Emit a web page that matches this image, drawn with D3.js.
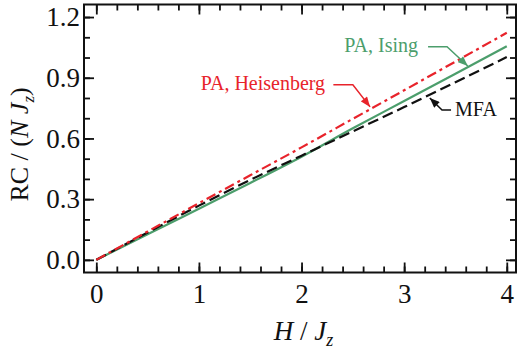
<!DOCTYPE html>
<html>
<head>
<meta charset="utf-8">
<script src="https://cdn.jsdelivr.net/npm/d3@7/dist/d3.min.js"></script>
<style>
  html, body { margin: 0; padding: 0; background: #fff; }
  svg { display: block; }
  text { font-family: "Liberation Serif", "Times New Roman", Times, serif; }
</style>
</head>
<body>
<svg id="chart" width="517" height="356"></svg>
<script>
// Field values H / Jz
const fieldValues = [0, 0.5, 1, 1.5, 2, 2.5, 3, 3.5, 4];
// RC / (N Jz) for each approach
const paHeisenberg = [0, 0.140, 0.280, 0.418, 0.556, 0.697, 0.838, 0.980, 1.122];
const paIsing      = [0, 0.126, 0.253, 0.380, 0.510, 0.650, 0.785, 0.920, 1.056];
const mfa          = [0, 0.135, 0.268, 0.395, 0.515, 0.635, 0.755, 0.878, 1.002];

const xMajorTicks = [0, 1, 2, 3, 4];
const xTickLabels = ["0", "1", "2", "3", "4"];
const yMajorTicks = [0, 0.3, 0.6, 0.9, 1.2];
const yTickLabels = ["0.0", "0.3", "0.6", "0.9", "1.2"];
const xMinorTicks = [0, 0.2, 0.4, 0.6, 0.8, 1, 1.2, 1.4, 1.6, 1.8, 2, 2.2, 2.4, 2.6, 2.8, 3, 3.2, 3.4, 3.6, 3.8, 4];
const yMinorTicks = [0, 0.1, 0.2, 0.3, 0.4, 0.5, 0.6, 0.7, 0.8, 0.9, 1.0, 1.1, 1.2];

const seriesNames = ["PA, Heisenberg", "PA, Ising", "MFA"];
const seriesValues = [paHeisenberg, paIsing, mfa];
const seriesColors = ["#e8232b", "#4c9e6c", "#111111"];
const seriesDash = ["10,4,3,4", null, "11,5"];

// Callout labels: text anchor point, leader start, knee and arrow tip, in data units
const callouts = [
  { series: 0, text: [2.23, 0.840], anchor: "end",   start: [2.31, 0.865], knee: [2.50, 0.865], tip: [2.668, 0.756] },
  { series: 1, text: [3.135, 1.028], anchor: "end",  start: [3.233, 1.053], knee: [3.418, 1.053], tip: [3.62, 0.958] },
  { series: 2, text: [3.496, 0.712], anchor: "start", start: [3.457, 0.741], knee: [3.369, 0.741], tip: [3.25, 0.800] }
];

const svg = d3.select("#chart");
const x = d3.scaleLinear().domain([-0.12, 4.09]).range([84, 516]);
const y = d3.scaleLinear().domain([-0.0625, 1.262]).range([272.5, 4.5]);
const [x0, x1] = x.range();
const [y0, y1] = y.range();

const MAJOR = 10, MINOR = 6;

// Minor ticks on all four sides
svg.append("g").attr("transform", `translate(0,${y0})`)
  .call(d3.axisBottom(x).tickValues(xMinorTicks).tickSize(-MINOR).tickFormat(""));
svg.append("g").attr("transform", `translate(0,${y1})`)
  .call(d3.axisTop(x).tickValues(xMinorTicks).tickSize(-MINOR).tickFormat(""));
svg.append("g").attr("transform", `translate(${x0},0)`)
  .call(d3.axisLeft(y).tickValues(yMinorTicks).tickSize(-MINOR).tickFormat(""));
svg.append("g").attr("transform", `translate(${x1},0)`)
  .call(d3.axisRight(y).tickValues(yMinorTicks).tickSize(-MINOR).tickFormat(""));

// Major ticks with labels
svg.append("g").attr("class", "xaxis").attr("transform", `translate(0,${y0})`)
  .call(d3.axisBottom(x).tickValues(xMajorTicks).tickSize(-MAJOR).tickPadding(11)
    .tickFormat((d, i) => xTickLabels[i]));
svg.append("g").attr("transform", `translate(0,${y1})`)
  .call(d3.axisTop(x).tickValues(xMajorTicks).tickSize(-MAJOR).tickFormat(""));
svg.append("g").attr("class", "yaxis").attr("transform", `translate(${x0},0)`)
  .call(d3.axisLeft(y).tickValues(yMajorTicks).tickSize(-MAJOR).tickPadding(4)
    .tickFormat((d, i) => yTickLabels[i]));
svg.append("g").attr("transform", `translate(${x1},0)`)
  .call(d3.axisRight(y).tickValues(yMajorTicks).tickSize(-MAJOR).tickFormat(""));

svg.selectAll(".domain").remove();
svg.selectAll(".tick line").attr("stroke", "#111").attr("stroke-width", 1.8);
svg.selectAll(".tick text").attr("font-size", 27).attr("fill", "#111");

// Frame
svg.append("rect")
  .attr("x", x0).attr("y", y1)
  .attr("width", x1 - x0).attr("height", y0 - y1)
  .attr("fill", "none").attr("stroke", "#111").attr("stroke-width", 2);

// Curves
const line = d3.line()
  .x((d, i) => x(fieldValues[i]))
  .y(d => y(d))
  .curve(d3.curveMonotoneX);

const drawOrder = [1, 2, 0];
drawOrder.forEach(k => {
  svg.append("path")
    .datum(seriesValues[k])
    .attr("d", line)
    .attr("fill", "none")
    .attr("stroke", seriesColors[k])
    .attr("stroke-width", 2.2)
    .attr("stroke-dasharray", seriesDash[k]);
});

// Arrowheads
const defs = svg.append("defs");
seriesColors.forEach((c, k) => {
  defs.append("marker")
    .attr("id", "arrow" + k)
    .attr("viewBox", "0 0 10 8")
    .attr("refX", 10).attr("refY", 4)
    .attr("markerWidth", 11).attr("markerHeight", 8)
    .attr("markerUnits", "userSpaceOnUse")
    .attr("orient", "auto")
    .append("path")
    .attr("d", "M0,0 L10,4 L0,8 Z")
    .attr("fill", c);
});

// Callouts
callouts.forEach(c => {
  const col = seriesColors[c.series];
  svg.append("path")
    .attr("d", d3.line()([c.start, c.knee, c.tip].map(p => [x(p[0]), y(p[1])])))
    .attr("fill", "none")
    .attr("stroke", col)
    .attr("stroke-width", 1.5)
    .attr("marker-end", `url(#arrow${c.series})`);
  svg.append("text")
    .attr("x", x(c.text[0])).attr("y", y(c.text[1]))
    .attr("text-anchor", c.anchor)
    .attr("font-size", 20)
    .attr("fill", col)
    .text(seriesNames[c.series]);
});

// Axis titles
const xTitle = svg.append("text")
  .attr("x", (x(0) + x(4)) / 2 + 2).attr("y", 340)
  .attr("text-anchor", "middle")
  .attr("font-size", 27).attr("fill", "#111");
xTitle.append("tspan").attr("font-style", "italic").text("H");
xTitle.append("tspan").text(" / ");
xTitle.append("tspan").attr("font-style", "italic").text("J");
xTitle.append("tspan").attr("font-style", "italic").attr("font-size", 18).attr("dy", 6).text("z");

const yTitle = svg.append("text")
  .attr("transform", `translate(28,${(y(0) + y(1.2)) / 2 + 6}) rotate(-90)`)
  .attr("text-anchor", "middle")
  .attr("font-size", 26).attr("fill", "#111");
yTitle.append("tspan").text("RC / (");
yTitle.append("tspan").attr("font-style", "italic").text("N J");
yTitle.append("tspan").attr("font-style", "italic").attr("font-size", 17).attr("dy", 6).text("z");
yTitle.append("tspan").attr("dy", -6).text(")");
</script>
</body>
</html>
